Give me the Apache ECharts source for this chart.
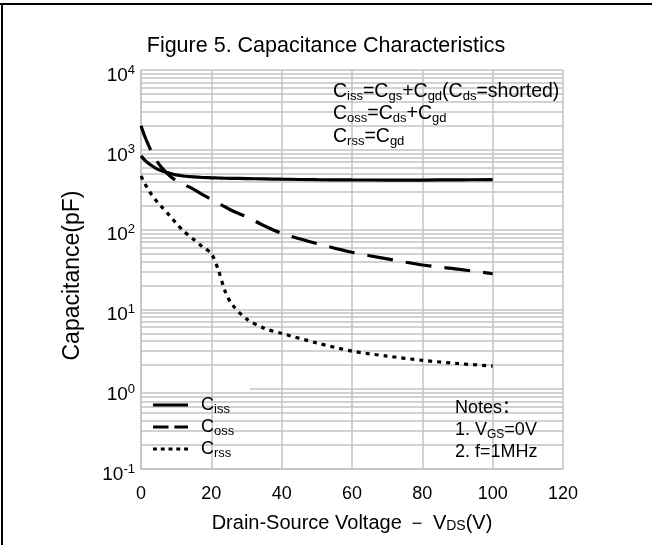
<!DOCTYPE html>
<html><head><meta charset="utf-8">
<script src="https://cdn.jsdelivr.net/npm/echarts@6/dist/echarts.min.js"></script>
<style>html,body{margin:0;padding:0;background:#fff}#c{width:652px;height:545px}</style>
</head><body><div id="c"></div>
<script>
// ---- data ----
const vds  = [0, 1, 2, 3, 4, 5, 6, 8, 10, 12, 15, 17.5, 20, 22, 24, 26, 30, 35, 40, 50, 60, 70, 80, 90, 100];
const ciss = [840, 750, 685, 635, 595, 565, 543, 512, 485, 470, 457, 450, 446, 443, 440, 439, 436, 432, 428, 422, 419, 418, 418, 420, 423];
const coss = [2000, 1500, 1180, 950, 790, 670, 590, 480, 410, 370, 320, 275, 238, 212, 192, 172, 145, 112, 90, 67, 52, 43, 36, 32, 28];
const crss = [470, 385, 320, 275, 240, 212, 190, 152, 120, 97, 75, 61, 50, 31, 16.5, 11.4, 7.6, 5.8, 5.0, 3.8, 3.0, 2.6, 2.3, 2.1, 1.95];
const seriesNames = ['Ciss', 'Coss', 'Crss'];
const xTicks = [0, 20, 40, 60, 80, 100, 120];
const decades = [0.1, 1, 10, 100, 1000, 10000];
const minorMult = [2, 3, 4, 5, 6, 7, 8, 9];

const FONT = "'Liberation Sans', Arial, 'Noto Sans CJK SC', sans-serif";
const FONT_AX = "'Liberation Sans', Arial, sans-serif";
const GRID = '#c3c3c3';
const zip = (xs, ys) => xs.map((x, i) => [x, ys[i]]);

const minorLines = [];
decades.slice(0, -1).forEach(d => minorMult.forEach(m => minorLines.push({ yAxis: +(d * m).toPrecision(3) })));

const subRich = {
  m: { fontSize: 19.5, fontFamily: FONT, color: '#000', lineHeight: 22.5 },
  s: { fontSize: 13, fontFamily: FONT, color: '#000', lineHeight: 13, verticalAlign: 'bottom' }
};

// legend sample icons (solid / dashed / dotted strokes)
const ICON_SOLID  = 'path://M0,0H36V3H0Z';
const ICON_DASHED = 'path://M0,0H16V3H0Z M22,0H36V3H22Z';
const ICON_DOTTED = 'path://M0,0H4V3H0Z M8,0H12V3H8Z M16,0H20V3H16Z M24,0H28V3H24Z M32,0H36V3H32Z';

const chart = echarts.init(document.getElementById('c'), null, { renderer: 'canvas' });
chart.setOption({
  animation: false,
  backgroundColor: '#fff',
  title: {
    text: 'Figure 5. Capacitance Characteristics',
    left: 'center', top: 30,
    textStyle: { fontFamily: FONT, fontSize: 21.5, fontWeight: 'normal', color: '#000' }
  },
  grid: { left: 141, top: 70, right: 89, bottom: 76, containLabel: false },
  xAxis: {
    type: 'value', min: xTicks[0], max: xTicks[xTicks.length - 1], interval: 20, z: 3,
    axisLine: { lineStyle: { color: GRID, width: 1.5 } },
    axisTick: { show: false },
    splitLine: { show: true, lineStyle: { color: GRID, width: 1.5 } },
    axisLabel: { fontFamily: FONT, fontSize: 18, color: '#000', margin: 16 },
    name: 'Drain-Source Voltage \uFF0D V{s|DS}(V)',
    nameLocation: 'middle', nameGap: 44,
    nameTextStyle: {
      fontFamily: FONT_AX, fontSize: 20, color: '#000',
      rich: { s: { fontSize: 14, fontFamily: FONT_AX, color: '#000', verticalAlign: 'bottom', lineHeight: 14 } }
    }
  },
  yAxis: {
    type: 'log', logBase: 10, min: 0.1, max: 10000, z: 0,
    axisLine: { show: true, lineStyle: { color: GRID, width: 1.5 } },
    axisTick: { show: false },
    splitLine: { show: true, lineStyle: { color: GRID, width: 1.5 } },
    axisLabel: {
      margin: 6,
      formatter: v => '{b|10}{e|' + Math.round(Math.log10(v)) + '}',
      rich: {
        b: { fontFamily: FONT, fontSize: 19, color: '#000', lineHeight: 22, verticalAlign: 'bottom' },
        e: { fontFamily: FONT, fontSize: 13, color: '#000', lineHeight: 30, verticalAlign: 'middle' }
      }
    },
    name: 'Capacitance(pF)', nameLocation: 'middle', nameGap: 57,
    nameTextStyle: { fontFamily: FONT, fontSize: 23, color: '#000', padding: [0, 12, 0, 0] }
  },
  legend: {
    orient: 'vertical', left: 148, top: 391, itemWidth: 35, itemHeight: 3.5, itemGap: 2,
    selectedMode: false, z: 6,
    data: [
      { name: seriesNames[0], icon: ICON_SOLID, itemStyle: { color: '#000' } },
      { name: seriesNames[1], icon: ICON_DASHED, itemStyle: { color: '#000' } },
      { name: seriesNames[2], icon: ICON_DOTTED, itemStyle: { color: '#000' } }
    ],
    formatter: n => '{m|C}{s|' + n.slice(1) + '}',
    textStyle: {
      padding: [0, 0, 0, 8],
      rich: {
        m: { fontSize: 18, fontFamily: FONT, color: '#000', lineHeight: 22 },
        s: { fontSize: 13, fontFamily: FONT, color: '#000', lineHeight: 13, verticalAlign: 'bottom' }
      }
    }
  },
  graphic: {
    elements: [
      // white panels behind the annotation boxes (hide horizontal grid lines)
      { type: 'rect', z: 1, silent: true, shape: { x: 333, y: 71.5, width: 229, height: 76.5 }, style: { fill: '#fff' } },
      { type: 'rect', z: 1, silent: true, shape: { x: 142, y: 384, width: 108, height: 84 }, style: { fill: '#fff' } },
      { type: 'rect', z: 1, silent: true, shape: { x: 443, y: 391, width: 119, height: 77 }, style: { fill: '#fff' } },
      // frame
      { type: 'line', z: 10, silent: true, shape: { x1: 0, y1: 4, x2: 652, y2: 4 }, style: { stroke: '#000', lineWidth: 2 } },
      { type: 'line', z: 10, silent: true, shape: { x1: 2, y1: 4, x2: 2, y2: 545 }, style: { stroke: '#000', lineWidth: 2 } },
      {
        type: 'text', z: 10, x: 333, y: 80, silent: true,
        style: {
          text: '{m|C}{s|iss}{m|=C}{s|gs}{m|+C}{s|gd}{m|(C}{s|ds}{m|=shorted)}\n' +
                '{m|C}{s|oss}{m|=C}{s|ds}{m|+C}{s|gd}\n' +
                '{m|C}{s|rss}{m|=C}{s|gd}',
          rich: subRich
        }
      },
      {
        type: 'text', z: 10, x: 455, y: 397, silent: true,
        style: {
          text: '{m|Notes\uFF1A}\n{m|1. V}{s|GS}{m|=0V}\n{m|2. f=1MHz}',
          rich: {
            m: { fontSize: 18, fontFamily: FONT, color: '#000', lineHeight: 22 },
            s: { fontSize: 12, fontFamily: FONT, color: '#000', lineHeight: 12, verticalAlign: 'bottom' }
          }
        }
      }
    ]
  },
  series: [
    {
      name: 'minor', type: 'line', data: [], z: 0, silent: true,
      markLine: {
        silent: true, symbol: 'none', animation: false,
        label: { show: false },
        lineStyle: { color: GRID, width: 1.5, type: 'solid' },
        data: minorLines
      }
    },
    { name: seriesNames[0], type: 'line', z: 5, data: zip(vds, ciss), symbol: 'none', smooth: 0.3,
      lineStyle: { color: '#000', width: 3.2, type: 'solid' }, itemStyle: { color: '#000' } },
    { name: seriesNames[1], type: 'line', z: 5, data: zip(vds, coss), symbol: 'none', smooth: 0.3,
      lineStyle: { color: '#000', width: 3.2, type: [26, 13] }, itemStyle: { color: '#000' } },
    { name: seriesNames[2], type: 'line', z: 5, data: zip(vds, crss), symbol: 'none', smooth: 0.3,
      lineStyle: { color: '#000', width: 3.2, type: [4, 5] }, itemStyle: { color: '#000' } }
  ]
});
</script>
</body></html>
